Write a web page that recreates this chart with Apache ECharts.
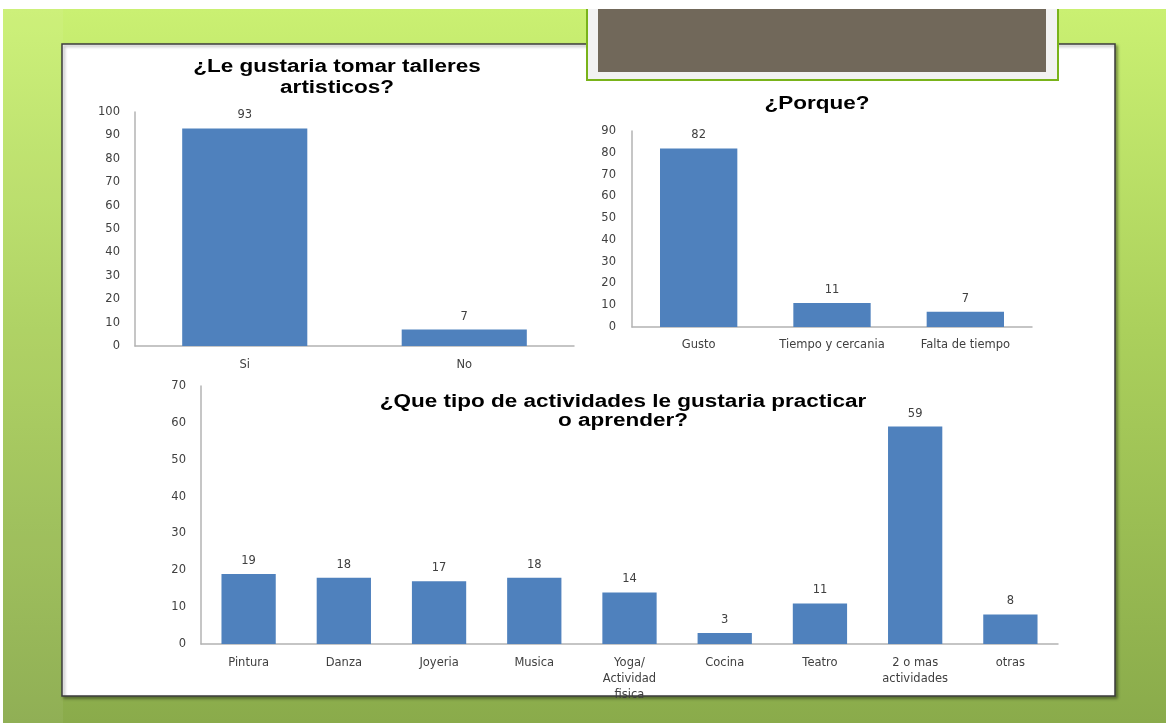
<!DOCTYPE html>
<html>
<head>
<meta charset="utf-8">
<script src="https://cdn.jsdelivr.net/npm/echarts@6/dist/echarts.min.js"></script>
<style>
html,body{margin:0;padding:0;background:#fff;}
#c{width:1166px;height:723px;}
</style>
</head>
<body>
<div id="c"></div>
<script>
// Chart 1
var cat1 = ['Si', 'No'];
var val1 = [93, 7];
var title1 = '¿Le gustaria tomar talleres\nartisticos?';
// Chart 2
var cat2 = ['Gusto', 'Tiempo y cercania', 'Falta de tiempo'];
var val2 = [82, 11, 7];
var title2 = '¿Porque?';
// Chart 3
var cat3 = ['Pintura', 'Danza', 'Joyeria', 'Musica', 'Yoga/\nActividad\nfisica', 'Cocina', 'Teatro', '2 o mas\nactividades', 'otras'];
var val3 = [19, 18, 17, 18, 14, 3, 11, 59, 8];
var title3 = '¿Que tipo de actividades le gustaria practicar\no aprender?';

var BAR = '#4f81bd';
var TXT = '#404040';
var labelFont = {fontFamily: 'DejaVu Sans', fontSize: 11.5, color: TXT};

function xAx(idx, data, margin) {
  return {
    type: 'category', gridIndex: idx, data: data,
    axisLine: {lineStyle: {color: '#b3b3b3', width: 1.5}},
    axisTick: {show: false},
    axisLabel: Object.assign({margin: margin, interval: 0, lineHeight: 16}, labelFont)
  };
}
function yAx(idx, max, margin) {
  return {
    type: 'value', gridIndex: idx, min: 0, max: max, interval: 10,
    axisLine: {show: true, lineStyle: {color: '#b3b3b3', width: 1.5}},
    axisTick: {show: false},
    splitLine: {show: false},
    axisLabel: Object.assign({margin: margin}, labelFont)
  };
}
function ser(idx, data, w) {
  return {
    type: 'bar', xAxisIndex: idx, yAxisIndex: idx, data: data, barWidth: w,
    itemStyle: {color: BAR},
    label: {show: true, position: 'top', distance: 7, fontFamily: 'DejaVu Sans', fontSize: 11.5, color: TXT},
    silent: true
  };
}
function titleText(text, x, y, lh) {
  return {type: 'text', x: x, y: y, scaleX: 1.25, z: 10,
    style: {text: text, fill: '#000', font: 'bold 18px "Liberation Sans", Arial, sans-serif',
      textAlign: 'center', textVerticalAlign: 'top', lineHeight: lh}};
}

var chart = echarts.init(document.getElementById('c'), null, {renderer: 'canvas'});
chart.setOption({
  animation: false,
  graphic: [
    {type: 'rect', z: -10, shape: {x: 3, y: 9, width: 1163, height: 714},
      style: {fill: new echarts.graphic.LinearGradient(0, 0, 0, 1, [
        {offset: 0, color: '#caf072'}, {offset: 0.45, color: '#abd05c'}, {offset: 1, color: '#8aab4b'}])}},
    {type: 'rect', z: -9, shape: {x: 3, y: 9, width: 60, height: 714},
      style: {fill: 'rgba(255,255,255,0.06)'}},
    {type: 'rect', z: -8, shape: {x: 62, y: 44, width: 1053, height: 652},
      style: {fill: '#ffffff', stroke: '#3c3c3c', lineWidth: 1.5,
        shadowBlur: 3, shadowOffsetX: 2, shadowOffsetY: 2, shadowColor: 'rgba(0,0,0,0.35)'}},
    {type: 'rect', z: -7, shape: {x: 587, y: 0, width: 471, height: 80},
      style: {fill: '#f2f2f2', stroke: '#79b31a', lineWidth: 2}},
    {type: 'rect', z: -6, shape: {x: 598, y: 0, width: 448, height: 72},
      style: {fill: '#71685a'}},
    {type: 'rect', z: -5, shape: {x: 0, y: 0, width: 1166, height: 9},
      style: {fill: '#ffffff'}},
    titleText(title1, 337, 57, 21),
    titleText(title2, 817, 94, 20),
    titleText(title3, 623, 393, 19)
  ],
  grid: [
    {left: 135, top: 112, width: 439, height: 234},
    {left: 632, top: 131, width: 400, height: 196},
    {left: 201, top: 386, width: 857, height: 258}
  ],
  xAxis: [xAx(0, cat1, 11), xAx(1, cat2, 10), xAx(2, cat3, 11)],
  yAxis: [yAx(0, 100, 15), yAx(1, 90, 16), yAx(2, 70, 15)],
  series: [ser(0, val1, '57%'), ser(1, val2, '58%'), ser(2, val3, '57%')]
});
</script>
</body>
</html>
